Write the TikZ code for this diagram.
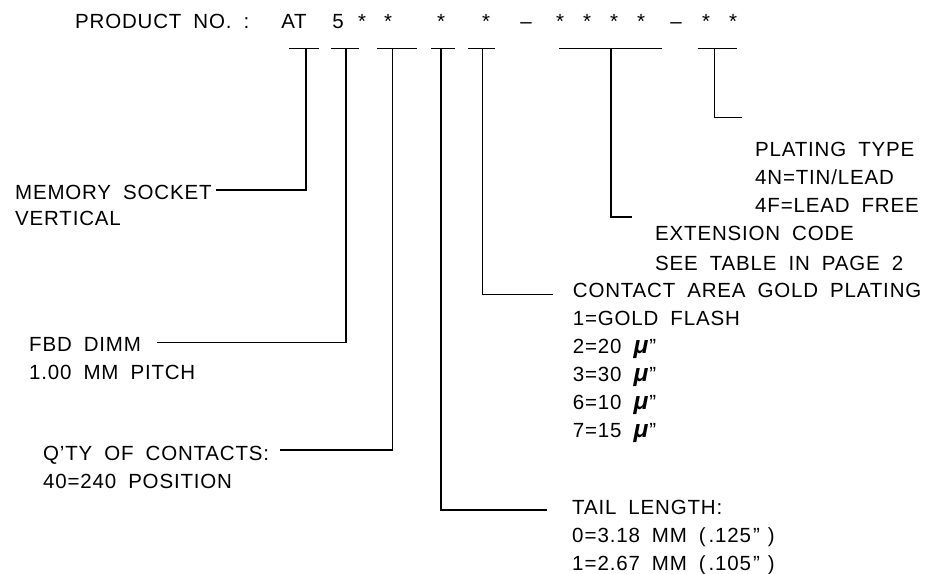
\documentclass[tikz,border=0pt]{standalone}
\usepackage{fontspec}
\setmainfont[LetterSpace=4]{Liberation Sans}
\newcommand{\lblfont}{\fontsize{20.5}{28}\selectfont\spaceskip=12pt\relax}
\newcommand{\mux}{{\bfseries\itshape\scalebox{1.2}{μ}}\kern1pt"}
\begin{document}
\begin{tikzpicture}[x=1pt,y=-1pt,
  lbl/.style={inner sep=0pt, anchor=north west, align=left, font=\lblfont},
  ttl/.style={inner sep=0pt, anchor=base, font=\lblfont},
  ln/.style={line width=1.2pt}]
\useasboundingbox (0,0) rectangle (944,573);
% title
\node[ttl, anchor=base west] (pn) at (75,28.5) {PRODUCT NO. :};
\node[ttl] (at) at (294,28.5) {AT};
\node[ttl] (c5) at (338,28.5) {5};
\node[ttl] (s1) at (362,28.5) {*};
\node[ttl] (s2) at (388,28.5) {*};
\node[ttl] (s3) at (441,28.5) {*};
\node[ttl] (s4) at (486,28.5) {*};
\node[ttl] (d1) at (526,28.5) {–};
\node[ttl] (s5) at (560,28.5) {*};
\node[ttl] (s6) at (587,28.5) {*};
\node[ttl] (s7) at (614,28.5) {*};
\node[ttl] (s8) at (641,28.5) {*};
\node[ttl] (d2) at (676,28.5) {–};
\node[ttl] (s9) at (706,28.5) {*};
\node[ttl] (s10) at (733,28.5) {*};
% bars
\draw[ln] (289.3,48.5) -- (319,48.5);
\draw[ln] (331,48.5) -- (359.3,48.5);
\draw[ln] (377.3,48.5) -- (416.7,48.5);
\draw[ln] (431,48.5) -- (455,48.5);
\draw[ln] (467.7,48.5) -- (495,48.5);
\draw[ln] (559.3,48.5) -- (661.7,48.5);
\draw[ln] (697.7,48.5) -- (737.3,48.5);
\coordinate (t1) at (306,48.5);
\coordinate (t2) at (346,48.5);
\coordinate (t3) at (392.3,48.5);
\coordinate (t4) at (441,48.5);
\coordinate (t5) at (482.3,48.5);
\coordinate (t6) at (611,48.5);
\coordinate (t7) at (714.3,48.5);
% labels
\node[lbl] (mem) at (15,184.5) {MEMORY SOCKET\\[-2pt]VERTICAL};
\node[lbl] (fbd) at (29,337.2) {FBD DIMM\\1.00 MM PITCH};
\node[lbl] (qty) at (43,445.5) {Q'TY OF CONTACTS:\\40=240 POSITION};
\node[lbl] (plt) at (755,141.5) {PLATING TYPE\\4N=TIN/LEAD\\4F=LEAD FREE};
\node[lbl] (ext) at (655,226.2) {EXTENSION CODE\\[2pt]SEE TABLE IN PAGE 2};
\node[lbl] (con) at (572.7,283) {CONTACT AREA GOLD PLATING\\1=GOLD FLASH\\2=20 \mux\\3=30 \mux\\6=10 \mux\\7=15 \mux};
\node[lbl] (tail) at (572,500) {TAIL LENGTH:\\0\kern1pt=\kern1pt3.18 MM (\kern3pt.125\kern2pt"\kern8pt)\\1\kern1pt=\kern1pt2.67 MM (\kern3pt.105\kern2pt"\kern8pt)};
% connector ends
\coordinate (e1) at (216,190);
\coordinate (e2) at (157,342.7);
\coordinate (e3) at (280,450);
\coordinate (e4) at (547,510);
\coordinate (e5) at (552.7,294.3);
\coordinate (e6) at (632,217);
\coordinate (e7) at (741.7,117.7);
\draw[ln] (t1) |- (e1);
\draw[ln] (t2) |- (e2);
\draw[ln] (t3) |- (e3);
\draw[ln] (t4) |- (e4);
\draw[ln] (t5) |- (e5);
\draw[ln] (t6) |- (e6);
\draw[ln] (t7) |- (e7);
\end{tikzpicture}
\end{document}
